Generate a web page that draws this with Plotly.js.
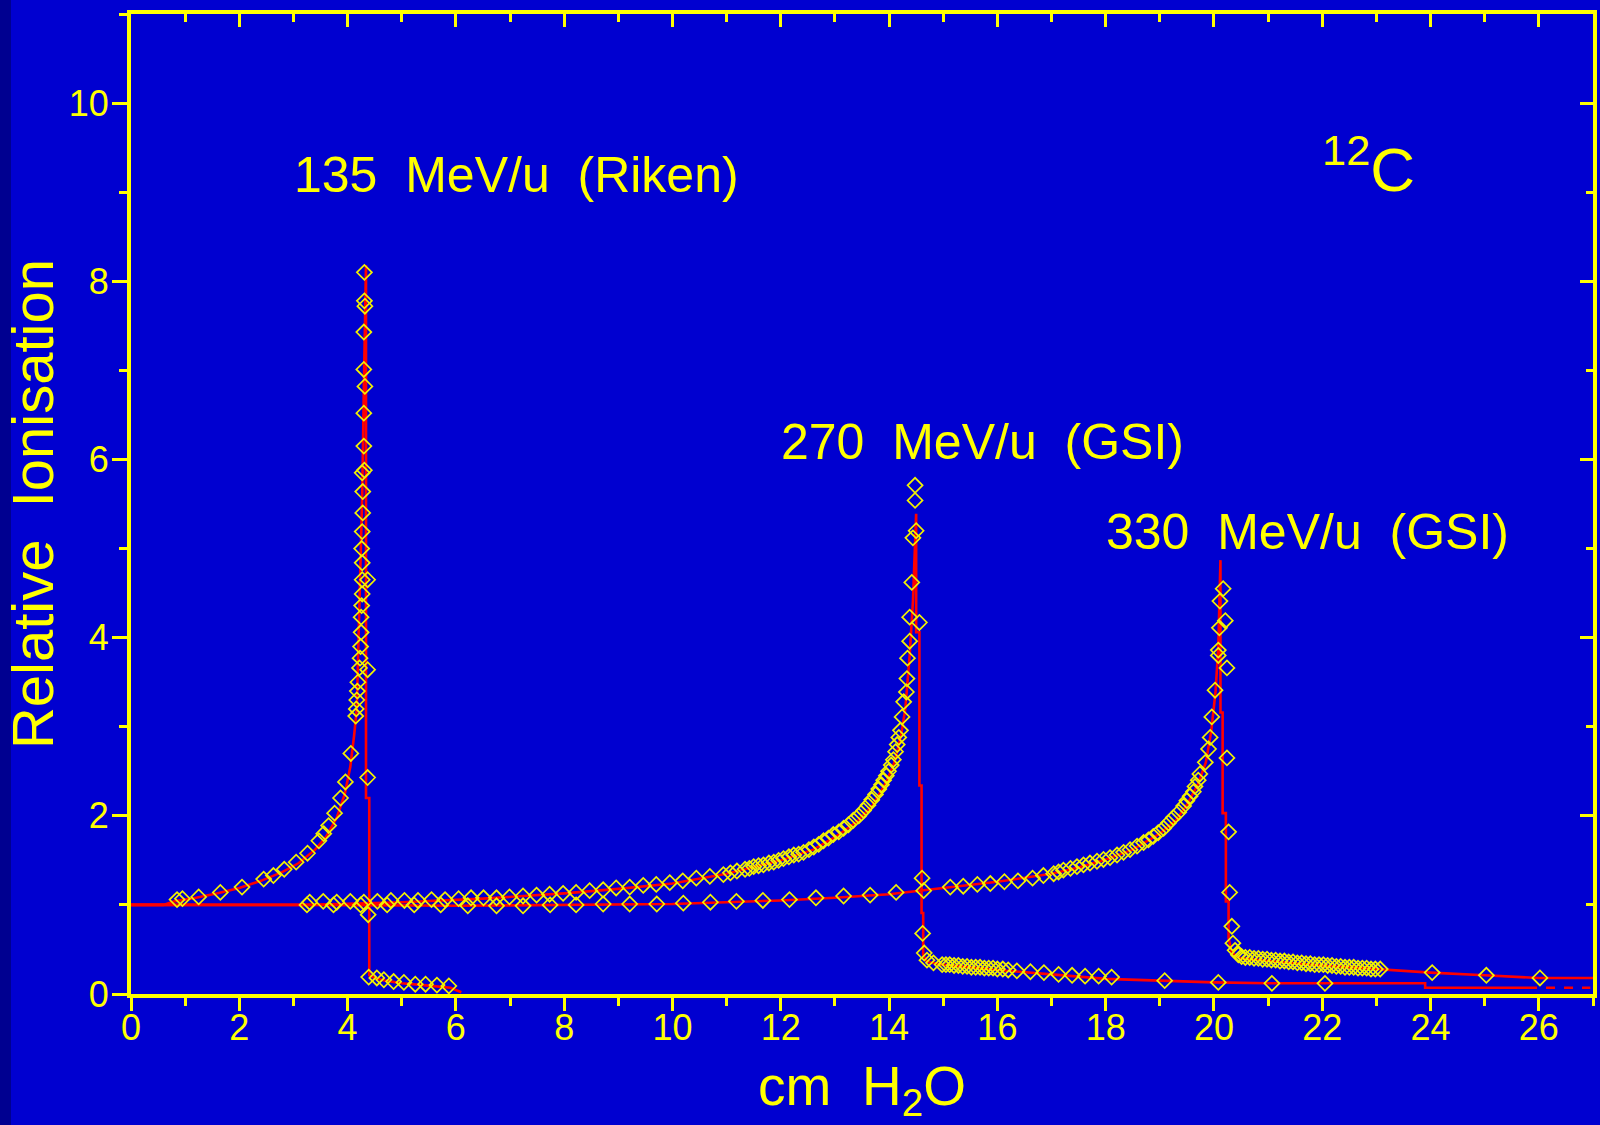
<!DOCTYPE html>
<html>
<head>
<meta charset="utf-8">
<script src="https://cdn.plot.ly/plotly-3.0.1.min.js"></script>
<style>
html,body{margin:0;padding:0;background:#0000D0;}
#chart{width:1600px;height:1125px;}
</style>
</head>
<body>
<div id="chart"></div>
<script>
// ---------- data ----------
// 135 MeV/u (Riken) – measured points
const riken_x = [0.85,0.95,1.25,1.65,2.05,2.45,2.63,2.83,3.05,3.26,3.47,3.56,3.65,3.76,3.87,3.96,4.06,
  4.15,4.16,4.17,4.18,4.19,4.22,4.23,4.24,4.25,4.25,4.26,4.27,4.27,4.27,4.26,4.27,4.28,4.28,4.27,4.31,4.30,4.30,4.32,4.30,4.30,4.32,4.31,4.31,
  4.37,4.37,4.37,4.38,
  4.39,4.54,4.67,4.85,5.04,5.25,5.44,5.65,5.87];
const riken_y = [1.06,1.07,1.09,1.14,1.20,1.29,1.33,1.40,1.48,1.58,1.72,1.80,1.89,2.03,2.20,2.38,2.70,
  3.12,3.20,3.30,3.40,3.50,3.66,3.77,3.90,4.06,4.23,4.36,4.49,4.65,4.84,5.00,5.19,5.40,5.64,5.85,5.88,6.15,6.52,6.82,7.01,7.43,7.72,7.78,8.10,
  4.65,3.64,2.43,0.89,
  0.19,0.18,0.16,0.14,0.13,0.11,0.11,0.10,0.09];
// 135 MeV/u (Riken) – model curve
const riken_fit_x = [0,0.6,0.8,1.2,1.6,2.0,2.4,2.8,3.1,3.4,3.6,3.8,3.95,4.05,4.12,4.17,4.19,4.23,4.27,4.30,4.34,4.34,4.40,4.40,4.5,4.7,5.0,5.4,5.9,6.1];
const riken_fit_y = [1.0,1.0,1.04,1.08,1.13,1.19,1.27,1.37,1.47,1.62,1.76,1.98,2.25,2.55,2.9,3.2,3.7,4.6,5.6,6.8,8.18,2.2,2.2,0.21,0.18,0.15,0.12,0.10,0.07,0.02];

// 270 MeV/u (GSI) – measured points
const gsi270_x = [3.30,3.55,3.80,4.05,4.30,4.55,4.80,5.05,5.30,5.55,5.80,6.05,6.28,
  6.51,6.75,6.99,7.24,7.49,7.73,7.98,8.22,8.47,8.72,8.96,9.21,9.46,9.70,9.95,10.19,10.44,10.69,10.94,11.07,11.19,11.34,11.42,11.5,11.59,11.68,11.78,11.87,11.96,12.05,12.15,12.24,12.33,12.42,12.52,12.61,12.70,12.79,12.88,12.97,13.07,13.16,13.25,13.34,13.44,13.53,13.61,13.68,13.75,13.81,13.86,13.90,13.95,13.99,14.04,14.08,14.12,14.15,14.18,14.21,14.24,14.27,14.32,14.33,14.34,14.38,14.38,14.42,14.44,14.50,14.48,14.48,
  14.56,14.61,14.62,14.65,14.70,14.82,14.98,
  15.05,15.12,15.20,15.28,15.36,15.44,15.52,15.60,15.68,15.76,15.84,15.92,16.00,16.10,16.20,
  16.36,16.61,16.86,17.13,17.38,17.62,17.87,18.11,19.09,20.08,21.07,22.05];
const gsi270_y = [1.03,1.04,1.03,1.04,1.03,1.04,1.05,1.05,1.05,1.06,1.06,1.07,1.08,
  1.08,1.08,1.09,1.10,1.11,1.12,1.13,1.14,1.16,1.17,1.19,1.20,1.22,1.23,1.25,1.27,1.30,1.32,1.34,1.36,1.38,1.40,1.41,1.43,1.44,1.45,1.47,1.48,1.50,1.52,1.54,1.56,1.57,1.59,1.62,1.65,1.68,1.72,1.75,1.79,1.82,1.86,1.90,1.95,2.00,2.06,2.12,2.18,2.24,2.30,2.35,2.40,2.45,2.50,2.57,2.63,2.72,2.80,2.88,2.96,3.11,3.28,3.39,3.54,3.77,3.96,4.23,4.62,5.12,5.20,5.54,5.71,
  4.17,1.30,0.68,0.46,0.38,0.35,0.33,
  0.33,0.33,0.32,0.32,0.31,0.31,0.30,0.30,0.30,0.29,0.29,0.29,0.28,0.28,0.27,
  0.26,0.25,0.24,0.22,0.21,0.20,0.20,0.19,0.15,0.13,0.12,0.12];
// 270 MeV/u (GSI) – model curve
const gsi270_fit_x = [0,3.3,5,6.5,8,9,10,11,12,12.6,13.0,13.4,13.7,13.95,14.1,14.22,14.3,14.38,14.44,14.48,14.50,14.50,14.56,14.56,14.60,14.60,14.63,14.63,14.7,15.0,15.5,16.0,17.0,18.0,19.0,20.0,21.0,22.0,23.9,23.9,25.8];
const gsi270_fit_y = [1.0,1.0,1.03,1.07,1.13,1.18,1.24,1.35,1.50,1.62,1.76,1.93,2.12,2.38,2.6,2.9,3.2,3.8,4.4,5.0,5.39,4.06,4.06,2.34,2.34,0.91,0.91,0.44,0.36,0.33,0.30,0.27,0.22,0.17,0.15,0.13,0.12,0.12,0.12,0.07,0.07];
// dashed continuation of the 270 MeV/u model curve
const gsi270_dash_x = [25.8,26.95];
const gsi270_dash_y = [0.07,0.07];

// 330 MeV/u (GSI) – measured points
const gsi330_x = [3.25,3.74,4.24,4.73,5.23,5.72,6.22,6.75,7.24,7.74,8.22,8.72,9.21,9.71,10.20,10.70,11.18,11.67,12.16,12.65,13.16,13.65,14.13,14.64,15.13,15.37,15.63,15.87,16.13,16.38,16.65,16.85,17.04,
  17.13,17.22,17.35,17.47,17.59,17.71,17.84,17.96,18.08,18.21,18.33,18.45,18.58,18.70,18.79,18.88,18.97,19.07,19.16,19.25,19.35,19.44,19.50,19.56,19.62,19.65,19.71,19.74,19.84,19.90,19.93,19.96,20.02,20.08,20.08,20.10,20.11,20.17,20.21,
  20.24,20.24,20.27,20.29,20.33,20.35,20.39,20.45,20.51,
  20.58,20.66,20.74,20.82,20.90,20.98,21.06,21.14,21.22,21.30,21.38,21.46,21.54,21.62,21.70,21.78,21.86,21.94,22.02,22.10,22.18,22.26,22.34,22.42,22.50,22.58,22.66,22.74,22.82,22.90,22.98,23.07,
  24.03,25.03,26.02];
const gsi330_y = [1.00,1.00,1.00,1.00,1.00,1.00,0.99,0.99,0.99,1.00,1.00,1.01,1.01,1.01,1.02,1.03,1.04,1.05,1.06,1.08,1.10,1.11,1.14,1.16,1.20,1.21,1.23,1.24,1.26,1.27,1.30,1.33,1.35,
  1.37,1.39,1.41,1.43,1.45,1.47,1.49,1.51,1.53,1.56,1.59,1.62,1.66,1.70,1.73,1.77,1.81,1.86,1.92,1.98,2.04,2.11,2.17,2.22,2.27,2.33,2.40,2.47,2.60,2.75,2.88,3.11,3.41,3.80,3.86,4.11,4.41,4.55,4.19,
  3.66,2.65,1.82,1.14,0.76,0.57,0.49,0.44,0.42,
  0.41,0.41,0.40,0.40,0.39,0.39,0.38,0.38,0.37,0.37,0.36,0.36,0.35,0.35,0.34,0.34,0.33,0.33,0.33,0.32,0.32,0.31,0.31,0.30,0.30,0.30,0.29,0.29,0.29,0.28,0.28,0.28,
  0.24,0.21,0.18];
// 330 MeV/u (GSI) – model curve
const gsi330_fit_x = [0,3.25,6,8,10,12,13,14,14.6,15,16,17,17.5,18,18.5,19,19.3,19.5,19.7,19.85,19.95,20.03,20.08,20.12,20.12,20.16,20.16,20.22,20.22,20.27,20.27,20.32,20.4,20.5,21,22,23,24,25,26,27];
const gsi330_fit_y = [1.0,1.0,0.99,1.0,1.01,1.05,1.08,1.12,1.16,1.19,1.26,1.35,1.42,1.51,1.62,1.80,1.95,2.12,2.35,2.6,2.95,3.4,3.9,4.87,3.16,3.16,2.03,2.03,1.04,1.04,0.63,0.48,0.43,0.40,0.37,0.32,0.28,0.24,0.21,0.18,0.18];

// axis ranges and labels
const xRange = [0, 27];
const yRange = [0, 11];
const xTitle = '\u00a0\u00a0cm\u00a0\u00a0H<sub>2</sub>O';
const yTitle = 'Relative\u00a0\u00a0Ionisation';
const labels = [
  {text:'135\u00a0\u00a0MeV/u\u00a0\u00a0(Riken)', x:2.97, y:9.19},
  {text:'270\u00a0\u00a0MeV/u\u00a0\u00a0(GSI)', x:11.96, y:6.2},
  {text:'330\u00a0\u00a0MeV/u\u00a0\u00a0(GSI)', x:17.97, y:5.19}
];
const ionLabel = {text:'<sup>12</sup>C', x:21.95, y:9.3};

// ---------- style ----------
const YEL = '#ffff00';
const RED = '#ff0000';
const BLUE = '#0000D0';
const REG = "'Liberation Sans', Arial, sans-serif";

function fit(x, y, dash){
  return {x:x, y:y, type:'scatter', mode:'lines', xaxis:'x', yaxis:'y',
    line:{color:RED, width:2.6, dash:dash || 'solid'}, hoverinfo:'skip', showlegend:false};
}
function pts(x, y){
  return {x:x, y:y, type:'scatter', mode:'markers', xaxis:'x2', yaxis:'y2',
    marker:{symbol:'diamond-open', size:11.5, color:'#f2f200', line:{width:1.7, color:'#f2f200'}},
    showlegend:false};
}

const traces = [
  fit(riken_fit_x, riken_fit_y),
  fit(gsi270_fit_x, gsi270_fit_y),
  fit(gsi270_dash_x, gsi270_dash_y, 'dash'),
  fit(gsi330_fit_x, gsi330_fit_y),
  pts(riken_x, riken_y),
  pts(gsi270_x, gsi270_y),
  pts(gsi330_x, gsi330_y)
];

const plotW = 1600 - 131 - 7;

const layout = {
  width:1600, height:1125,
  margin:{l:131, r:7, t:14, b:131},
  paper_bgcolor:BLUE, plot_bgcolor:BLUE,
  showlegend:false,
  xaxis:{
    range:xRange, dtick:2, tick0:0, showgrid:false, zeroline:false,
    showline:true, linecolor:YEL, linewidth:4, mirror:true,
    ticks:'outside', ticklen:13, tickwidth:3, tickcolor:YEL,
    minor:{dtick:1, tick0:0, ticks:'outside', ticklen:8, tickwidth:3, tickcolor:YEL, showgrid:false},
    tickfont:{family:REG, size:36, color:YEL},
    ticklabelstandoff:-14,
    title:{text:xTitle, font:{family:REG, size:55, color:YEL}, standoff:20}
  },
  yaxis:{
    range:yRange, dtick:2, tick0:0, showgrid:false, zeroline:false,
    showline:true, linecolor:YEL, linewidth:4, mirror:true,
    ticks:'outside', ticklen:15, tickwidth:3, tickcolor:YEL,
    minor:{dtick:1, tick0:0, ticks:'outside', ticklen:8, tickwidth:3, tickcolor:YEL, showgrid:false},
    tickfont:{family:REG, size:36, color:YEL},
    ticklabelstandoff:-4,
    title:{text:yTitle, font:{family:REG, size:58, color:YEL}, standoff:14}
  },
  xaxis2:{
    range:xRange, overlaying:'x', side:'top', dtick:2, tick0:0,
    showgrid:false, zeroline:false, showline:false, showticklabels:false,
    ticks:'inside', ticklen:13, tickwidth:3, tickcolor:YEL,
    minor:{dtick:1, tick0:0, ticks:'inside', ticklen:8, tickwidth:3, tickcolor:YEL, showgrid:false}
  },
  yaxis2:{
    range:yRange, overlaying:'y', side:'right', dtick:2, tick0:0,
    showgrid:false, zeroline:false, showline:false, showticklabels:false,
    ticks:'inside', ticklen:13, tickwidth:3, tickcolor:YEL,
    minor:{dtick:1, tick0:0, ticks:'inside', ticklen:7, tickwidth:3, tickcolor:YEL, showgrid:false}
  },
  shapes:[
    {type:'rect', xref:'paper', yref:'paper', x0:-131/plotW, x1:-120/plotW, y0:-131/980, y1:1+14/980,
     fillcolor:'#000090', line:{width:0}, layer:'below'}
  ],
  annotations: labels.map(l => ({
    text:l.text, x:l.x, y:l.y, xref:'x', yref:'y', xanchor:'left', yanchor:'middle',
    showarrow:false, font:{family:REG, size:50, color:YEL}
  })).concat([{
    text:ionLabel.text, x:ionLabel.x, y:ionLabel.y, xref:'x', yref:'y', xanchor:'left', yanchor:'middle',
    showarrow:false, font:{family:REG, size:62, color:YEL}
  }])
};

Plotly.newPlot('chart', traces, layout, {displayModeBar:false, staticPlot:true});
</script>
</body>
</html>
